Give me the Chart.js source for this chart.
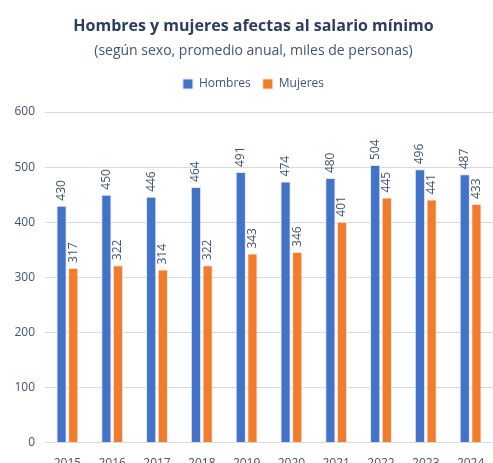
<!DOCTYPE html>
<html>
<head>
<meta charset="utf-8">
<script src="https://cdn.jsdelivr.net/npm/chart.js@4"></script>
<style>
  html, body { margin: 0; padding: 0; background: #fff; overflow: hidden; }
  #wrap { width: 493px; height: 477px; }
</style>
</head>
<body>
<div id="wrap"><canvas id="chart"></canvas></div>
<script>
const years = ['2015', '2016', '2017', '2018', '2019', '2020', '2021', '2022', '2023', '2024'];
const hombres = [430, 450, 446, 464, 491, 474, 480, 504, 496, 487];
const mujeres = [317, 322, 314, 322, 343, 346, 401, 445, 441, 433];
const yTicks = [0, 100, 200, 300, 400, 500, 600];

const FONT = "'Open Sans', 'Noto Sans', sans-serif";

// rotated value labels above each bar
const barLabels = {
  id: 'barLabels',
  afterDatasetsDraw(chart) {
    const ctx = chart.ctx;
    ctx.save();
    ctx.font = '12px ' + FONT;
    ctx.fillStyle = '#44546A';
    ctx.textAlign = 'left';
    ctx.textBaseline = 'middle';
    chart.data.datasets.forEach((ds, i) => {
      chart.getDatasetMeta(i).data.forEach((bar, j) => {
        ctx.save();
        ctx.translate(bar.x, bar.y - 5);
        ctx.rotate(-Math.PI / 2);
        ctx.fillText(String(ds.data[j]), 0, 0);
        ctx.restore();
      });
    });
    ctx.restore();
  }
};

// extra room under the legend
const legendGap = {
  id: 'legendGap',
  beforeInit(chart) {
    const fit = chart.legend.fit;
    chart.legend.fit = function () {
      fit.bind(chart.legend)();
      this.height += 12;
    };
  }
};

new Chart(document.getElementById('chart'), {
  type: 'bar',
  data: {
    labels: years,
    datasets: [
      {
        label: 'Hombres',
        data: hombres,
        backgroundColor: '#4472C4',
        borderColor: '#DCE6F5',
        borderWidth: 1,
        categoryPercentage: 0.52,
        barPercentage: 0.88
      },
      {
        label: 'Mujeres',
        data: mujeres,
        backgroundColor: '#ED7D31',
        borderColor: '#FBE3D2',
        borderWidth: 1,
        categoryPercentage: 0.52,
        barPercentage: 0.88
      }
    ]
  },
  options: {
    responsive: true,
    maintainAspectRatio: false,
    animation: false,
    layout: { padding: { left: 14, right: 0, top: 13, bottom: 0 } },
    plugins: {
      title: {
        display: true,
        text: 'Hombres y mujeres afectas al salario mínimo',
        color: '#2E3D5C',
        font: { family: FONT, size: 16, weight: 'bold' },
        padding: { top: 4, bottom: 6 }
      },
      subtitle: {
        display: true,
        text: '(según sexo, promedio anual, miles de personas)',
        color: '#44546A',
        font: { family: FONT, size: 14 },
        padding: { bottom: 7 }
      },
      legend: {
        labels: {
          boxWidth: 10,
          boxHeight: 10,
          color: '#44546A',
          font: { family: FONT, size: 12 },
          padding: 12
        }
      },
      tooltip: { enabled: false }
    },
    scales: {
      x: {
        grid: { display: false },
        border: { display: false },
        ticks: { color: '#44546A', font: { family: FONT, size: 12 }, padding: 6 }
      },
      y: {
        min: 0,
        max: 600,
        afterBuildTicks: (axis) => { axis.ticks = yTicks.map(v => ({ value: v })); },
        afterFit: (axis) => { axis.width = 31; },
        grid: { color: '#D9D9D9', drawTicks: false },
        border: { display: false },
        ticks: { color: '#44546A', font: { family: FONT, size: 12 }, padding: 10 }
      }
    }
  },
  plugins: [barLabels, legendGap]
});
</script>
</body>
</html>
